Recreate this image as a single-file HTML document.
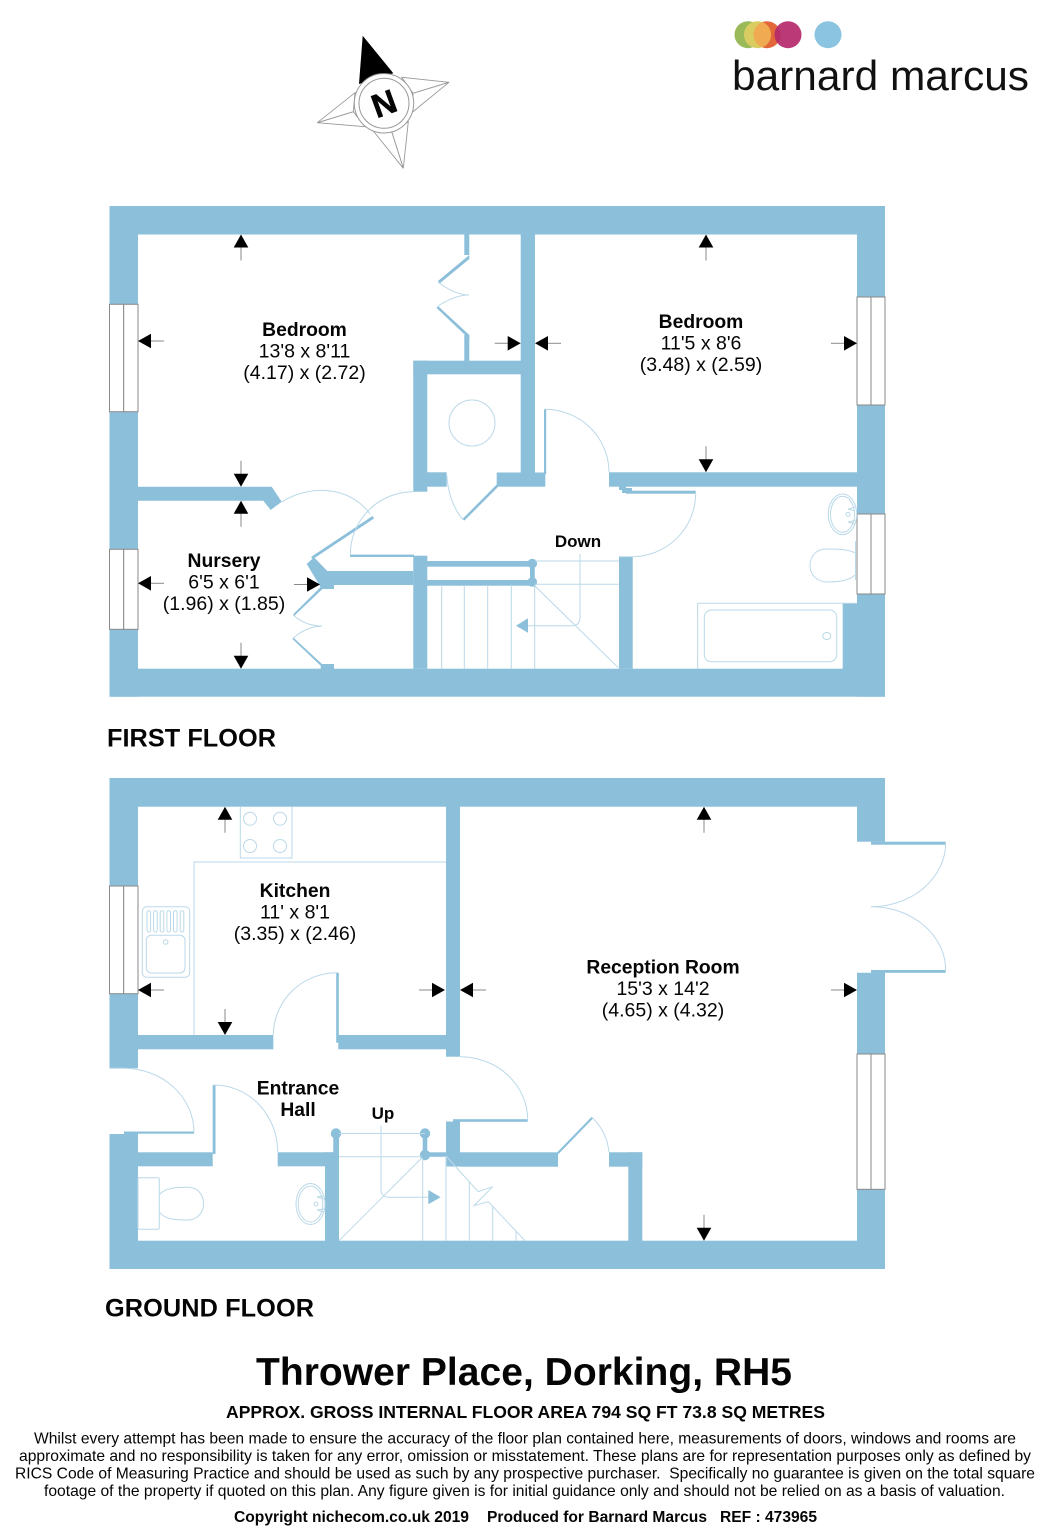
<!DOCTYPE html>
<html><head><meta charset="utf-8"><title>Thrower Place floor plan</title>
<style>html,body{margin:0;padding:0;background:#fff}svg{display:block}
text{font-family:"Liberation Sans",sans-serif;fill:#050505}
.b{font-weight:bold}.r{font-size:19.5px;text-anchor:middle}.h{font-size:19.3px;font-weight:bold;text-anchor:middle}
.l{fill:none;stroke:#bbd9e8;stroke-width:1}.w{fill:#8bbfda}.win{fill:#fff;stroke:#8a8a8a;stroke-width:1}
</style></head><body>
<svg xmlns="http://www.w3.org/2000/svg" width="1053" height="1536" viewBox="0 0 1053 1536">
<defs><g id="a"><line x1="0" y1="10" x2="0" y2="26" stroke="#8a8a8a" stroke-width="1"/><polygon points="0,0 -7.3,13 7.3,13" fill="#000"/></g>
<clipPath id="oc"><circle cx="767" cy="34.7" r="13.5"/></clipPath></defs>
<rect width="1053" height="1536" fill="#fff"/>

<!-- compass -->
<g fill="#fff" stroke="#999" stroke-width="0.9">
<polygon points="449,82.3 401.7,77.3 413,93.3"/><polygon points="449,82.3 413,93.3 411.7,112.7"/>
<polygon points="403.3,168.3 408.3,121.7 391.7,131.7"/><polygon points="403.3,168.3 391.7,131.7 373.3,131"/>
<polygon points="317.3,122.7 365,126.7 353.3,111.7"/><polygon points="317.3,122.7 353.3,111.7 355,92.7"/>
</g>
<polygon points="362.7,35.7 359,84 393.3,73.3" fill="#000"/>
<circle cx="384" cy="103.3" r="29.7" fill="#fff" stroke="#999" stroke-width="1"/>
<circle cx="384" cy="103.3" r="25" fill="#fff" stroke="#999" stroke-width="1"/>
<text x="384" y="115" class="b" font-size="33" text-anchor="middle" transform="rotate(-20 384 103.3)" style="stroke:#000;stroke-width:.6">N</text>

<!-- logo -->
<circle cx="767" cy="34.7" r="13.5" fill="#e2683a"/>
<circle cx="748" cy="34.7" r="13.5" fill="#9aba59"/>
<circle cx="757.5" cy="34.7" r="13.5" fill="#d9cd62"/>
<circle cx="757.5" cy="34.7" r="13.5" fill="#efaa52" clip-path="url(#oc)"/>
<circle cx="788" cy="34.7" r="13.5" fill="#b52a6c" opacity=".93"/>
<circle cx="828" cy="34.7" r="13.5" fill="#8bc4e0"/>
<text x="732" y="90" font-size="42" textLength="297" lengthAdjust="spacingAndGlyphs" style="fill:#111">barnard marcus</text>

<!-- FIRST FLOOR walls -->
<g class="w">
<rect x="109.5" y="206" width="775.5" height="28.5"/>
<rect x="109.5" y="668.7" width="775.5" height="28"/>
<rect x="109.5" y="206" width="28.5" height="98.3"/>
<rect x="109.5" y="411.7" width="28.5" height="137.6"/>
<rect x="109.5" y="629.3" width="28.5" height="67.4"/>
<rect x="857" y="206" width="28" height="91"/>
<rect x="857" y="405" width="28" height="109"/>
<rect x="857" y="594" width="28" height="102.7"/>
<rect x="842.7" y="603.3" width="16" height="66"/>
<rect x="520.7" y="234" width="14.3" height="252"/>
<rect x="496.7" y="472.5" width="48.6" height="14.2"/>
<rect x="544" y="409.3" width="2.2" height="65"/>
<rect x="464.3" y="234" width="5" height="21"/>
<polygon points="469.3,255 438,281 439.6,283.5 469.3,259"/>
<polygon points="438,306 469.3,335 469.3,339 436.6,308"/>
<rect x="464.3" y="335" width="5" height="27"/>
<rect x="413.3" y="360.7" width="108" height="13.6"/>
<rect x="413.3" y="360.7" width="14" height="131"/>
<rect x="427" y="472.3" width="19.7" height="14.4"/>
<polygon points="496.7,484.5 498.5,486.5 464.5,520.5 462.5,519"/>
<polygon points="138,486.7 271.7,486.7 281.7,501.7 270.7,510 263.3,500.7 138,500.7"/>
<polygon points="372.5,516 374,518.5 313,559 311,557"/>
<polygon points="306.7,564 314,557.3 327.3,571 413.3,571 413.3,585 334,585 334,589 320.7,589 320,586"/>
<polygon points="320.7,587 322.5,589 294.5,615.5 293,614.5"/>
<polygon points="293.3,637.5 322,664 320.5,665.5 292.5,639"/>
<rect x="320.7" y="664" width="13.3" height="5"/>
<rect x="413.3" y="555.7" width="14" height="113"/>
<rect x="350" y="554.6" width="64" height="2.4"/>
<rect x="427" y="561" width="105" height="5.7"/>
<rect x="427" y="580" width="105" height="5.7"/>
<circle cx="532.3" cy="563.5" r="4.8"/><circle cx="532.3" cy="582" r="4.8"/>
<rect x="530" y="564" width="4.8" height="18"/>
<rect x="619" y="556.7" width="13.7" height="112"/>
<rect x="609" y="472.3" width="248" height="14.4"/>
<rect x="619" y="486" width="7" height="4"/>
<rect x="622" y="488" width="10" height="5"/>
<rect x="626" y="490.7" width="69.7" height="3"/>
</g>
<g class="win">
<rect x="109.5" y="304.3" width="14.2" height="107.4"/><rect x="123.7" y="304.3" width="14.3" height="107.4"/>
<rect x="109.5" y="549.3" width="14.2" height="80"/><rect x="123.7" y="549.3" width="14.3" height="80"/>
<rect x="857" y="297" width="14" height="108"/><rect x="871" y="297" width="14" height="108"/>
<rect x="857" y="514" width="14" height="80"/><rect x="871" y="514" width="14" height="80"/>
</g>
<g class="l">
<path d="M438,282 Q455,295 469,295 Q455,295 438,306"/>
<circle cx="472" cy="423" r="23"/>
<path d="M446.7,475 Q449,504 463.4,520"/>
<path d="M281.7,502 C310,484 350,486 370,514"/>
<path d="M413.3,491.7 A63,63 0 0 0 350.3,555"/>
<path d="M545,409.3 A64,63 0 0 1 609,472"/>
<path d="M695.7,493 A63.7,63.7 0 0 1 632,556.7 L619,556.7"/>
<path d="M293.3,615 Q305,626 322,626 Q305,627 293.3,638.3"/>
<path d="M441.7,585V668.7M464.3,585V668.7M487.7,585V668.7M511.3,585V668.7M534.7,585V668.7"/>
<path d="M535,561H619M535,584.3H619M535,586L618.3,667.7"/>
<path d="M580,554V617Q580,625.7 572,625.7H528"/>
<path d="M842.7,603.3H697.7V668.7M842.7,603.3H857"/>
<rect x="704.3" y="610" width="132.4" height="51.7" rx="7"/>
<ellipse cx="826.7" cy="636" rx="4" ry="3.5"/>
<ellipse cx="842.5" cy="514.3" rx="14.2" ry="20.3"/>
<ellipse cx="842.5" cy="514.3" rx="12" ry="18"/>
<circle cx="848" cy="514.5" r="2"/>
<path d="M855,507.5L848,509L855,511M855,520.5L848,522L855,524"/>
<path d="M855,553 C848,549 835,549 826,549 C816,549 810,557 810,565.5 C810,574 816,582 828,582 C840,582 850,580 855,575"/>
<path d="M855.5,580V541"/>
</g>
<polygon points="516,625.7 528,618.3 528,632.7" fill="#8bbfda"/>

<!-- GROUND FLOOR walls -->
<g class="w">
<rect x="109.5" y="778" width="775.5" height="28.7"/>
<rect x="109.5" y="1240.7" width="775.5" height="28.3"/>
<rect x="109.5" y="778" width="28.5" height="108"/>
<rect x="109.5" y="993.7" width="28.5" height="74.6"/>
<polygon points="109.5,1134 124,1134 124,1132.5 138,1132.5 138,1269 109.5,1269"/>
<rect x="124" y="1131.5" width="70" height="2.2"/>
<rect x="138" y="1035" width="135.3" height="14.3"/>
<rect x="338.3" y="1035" width="108" height="14.3"/>
<rect x="336.2" y="972.7" width="2.6" height="70"/>
<rect x="446" y="778" width="14" height="278.7"/>
<rect x="446" y="1121.5" width="14" height="45"/>
<rect x="453" y="1119.2" width="74.7" height="2.6"/>
<rect x="460" y="1152.3" width="98" height="14.4"/>
<polygon points="557,1152.5 591.5,1117 593,1118.5 558.5,1154"/>
<rect x="609" y="1152.3" width="33.3" height="14.4"/>
<rect x="628.3" y="1152.3" width="14" height="90"/>
<rect x="138" y="1152.3" width="74.7" height="14"/>
<rect x="212.7" y="1085" width="2.8" height="69"/>
<rect x="277.7" y="1152.3" width="61.3" height="14"/>
<rect x="325" y="1152.3" width="14" height="90"/>
<rect x="333.3" y="1133" width="5.7" height="22"/>
<circle cx="336" cy="1133.5" r="5.2"/>
<circle cx="425" cy="1133.5" r="5.2"/>
<circle cx="425" cy="1155" r="5.2"/>
<rect x="422.7" y="1135" width="4.6" height="20"/>
<rect x="425" y="1152.3" width="22" height="4.5"/>
<rect x="857" y="778" width="28" height="63.7"/>
<rect x="871" y="841.7" width="74.7" height="3"/>
<rect x="871" y="970" width="74.7" height="2.8"/>
<polygon points="857,972.7 871,972.7 871,970 885,970 885,1054 857,1054"/>
<rect x="857" y="1189.3" width="28" height="79.7"/>
</g>
<g class="win">
<rect x="109.5" y="886" width="14.2" height="107.7"/><rect x="123.7" y="886" width="14.3" height="107.7"/>
<rect x="857" y="1054" width="14" height="135.3"/><rect x="871" y="1054" width="14" height="135.3"/>
</g>
<g class="l">
<path d="M194,1035V862H446"/>
<path d="M240.3,806.7V858H292V806.7"/>
<circle cx="250" cy="818.7" r="6.5"/><circle cx="280" cy="818.7" r="6.5"/><circle cx="250" cy="846" r="6.5"/><circle cx="280" cy="846" r="6.5"/>
<rect x="142.3" y="906.7" width="47.4" height="70.6" rx="4.5"/>
<rect x="146.3" y="935.3" width="38.7" height="37.7" rx="5"/>
<circle cx="165.7" cy="942" r="2.3"/>
<rect x="147" y="910.7" width="3.6" height="21.3" rx="1.8"/><rect x="153.6" y="910.7" width="3.6" height="21.3" rx="1.8"/><rect x="160.2" y="910.7" width="3.6" height="21.3" rx="1.8"/><rect x="166.9" y="910.7" width="3.6" height="21.3" rx="1.8"/><rect x="173.5" y="910.7" width="3.6" height="21.3" rx="1.8"/><rect x="180.2" y="910.7" width="3.6" height="21.3" rx="1.8"/>
<path d="M337,972.7 A63.7,63 0 0 0 273.3,1035"/>
<path d="M109.5,1068.3 H124 A70,64 0 0 1 194,1132"/>
<path d="M214,1085 A63.7,67 0 0 1 277.7,1152"/>
<path d="M460,1056.7 A67.7,63 0 0 1 527.7,1119.5"/>
<path d="M592.3,1117.7 Q607,1132 609,1152.3"/>
<path d="M945.7,843 A74.7,64 0 0 1 871,906.7 A74.7,63.5 0 0 1 945.7,970"/>
<path d="M339,1133.5H425M339,1156.7H422M339,1240.7L421.7,1158"/>
<path d="M422.7,1158V1240.7M446,1156V1240.7M469.3,1182V1240.7M492.7,1206V1240.7M516,1231V1240.7"/>
<path d="M446,1156L478.3,1191.7L492.7,1186.7L474,1205.7L488.3,1201.7L525,1240.7"/>
<path d="M381,1125.7V1189Q381,1197.3 389,1197.3H429"/>
<rect x="138" y="1177.7" width="21.3" height="51.6" rx="1.5"/>
<path d="M159.3,1195 C165,1187 180,1187.3 188,1187.3 C198,1187.3 203.5,1195 203.5,1203.7 C203.5,1212 198,1220 188,1220 C178,1220 165,1220 159.3,1212"/>
<ellipse cx="310.5" cy="1204" rx="14.5" ry="20.5"/>
<ellipse cx="310.5" cy="1204" rx="12.3" ry="18"/>
<circle cx="316" cy="1204" r="2"/>
<path d="M324,1196L317,1197L324,1199M324,1209L317,1210L324,1212"/>
</g>
<polygon points="440.7,1197.2 428.3,1190 428.3,1204.3" fill="#8bbfda"/>

<!-- dimension arrows -->
<use href="#a" transform="translate(241,234.5)"/>
<use href="#a" transform="translate(138,341) rotate(-90)"/>
<use href="#a" transform="translate(520.7,343.3) rotate(90)"/>
<use href="#a" transform="translate(241,486.7) rotate(180)"/>
<use href="#a" transform="translate(706,234.5)"/>
<use href="#a" transform="translate(535,343.3) rotate(-90)"/>
<use href="#a" transform="translate(857,343.3) rotate(90)"/>
<use href="#a" transform="translate(706,472.3) rotate(180)"/>
<use href="#a" transform="translate(241,500.7)"/>
<use href="#a" transform="translate(138,583.3) rotate(-90)"/>
<use href="#a" transform="translate(320,584.5) rotate(90)"/>
<use href="#a" transform="translate(241,668.7) rotate(180)"/>
<use href="#a" transform="translate(225,806.7)"/>
<use href="#a" transform="translate(138,990) rotate(-90)"/>
<use href="#a" transform="translate(445,990) rotate(90)"/>
<use href="#a" transform="translate(225,1035) rotate(180)"/>
<use href="#a" transform="translate(704,806.7)"/>
<use href="#a" transform="translate(460,990) rotate(-90)"/>
<use href="#a" transform="translate(857,990) rotate(90)"/>
<use href="#a" transform="translate(704,1240.7) rotate(180)"/>

<!-- room labels -->
<text x="304.5" y="336" class="h">Bedroom</text><text x="304.5" y="357.5" class="r">13'8 x 8'11</text><text x="304.5" y="379" class="r">(4.17) x (2.72)</text>
<text x="701" y="328" class="h">Bedroom</text><text x="701" y="349.5" class="r">11'5 x 8'6</text><text x="701" y="371" class="r">(3.48) x (2.59)</text>
<text x="224" y="567" class="h">Nursery</text><text x="224" y="588.5" class="r">6'5 x 6'1</text><text x="224" y="610" class="r">(1.96) x (1.85)</text>
<text x="578" y="547" class="b" font-size="17" text-anchor="middle">Down</text>
<text x="295" y="897" class="h">Kitchen</text><text x="295" y="918.5" class="r">11' x 8'1</text><text x="295" y="940" class="r">(3.35) x (2.46)</text>
<text x="663" y="973.3" class="h">Reception Room</text><text x="663" y="995" class="r">15'3 x 14'2</text><text x="663" y="1016.5" class="r">(4.65) x (4.32)</text>
<text x="298" y="1094.3" class="h">Entrance</text><text x="298" y="1116" class="h">Hall</text>
<text x="383" y="1119" class="b" font-size="17" text-anchor="middle">Up</text>
<text x="107" y="746.5" class="b" font-size="25.3" textLength="169">FIRST FLOOR</text>
<text x="105" y="1316.5" class="b" font-size="25.3" textLength="209">GROUND FLOOR</text>

<!-- footer -->
<text x="256" y="1385" class="b" font-size="39" textLength="536">Thrower Place, Dorking, RH5</text>
<text x="226" y="1418" class="b" font-size="17.3" textLength="599" lengthAdjust="spacingAndGlyphs">APPROX. GROSS INTERNAL FLOOR AREA 794 SQ FT 73.8 SQ METRES</text>
<text x="34" y="1443.5" font-size="16" textLength="982" lengthAdjust="spacingAndGlyphs">Whilst every attempt has been made to ensure the accuracy of the floor plan contained here, measurements of doors, windows and rooms are</text>
<text x="19" y="1461" font-size="16" textLength="1012" lengthAdjust="spacingAndGlyphs">approximate and no responsibility is taken for any error, omission or misstatement. These plans are for representation purposes only as defined by</text>
<text x="15" y="1478.5" font-size="16" textLength="1020" lengthAdjust="spacingAndGlyphs" xml:space="preserve">RICS Code of Measuring Practice and should be used as such by any prospective purchaser.  Specifically no guarantee is given on the total square</text>
<text x="44" y="1496" font-size="16" textLength="961" lengthAdjust="spacingAndGlyphs">footage of the property if quoted on this plan. Any figure given is for initial guidance only and should not be relied on as a basis of valuation.</text>
<text x="234" y="1522" class="b" font-size="15.5" textLength="235" lengthAdjust="spacingAndGlyphs">Copyright nichecom.co.uk 2019</text>
<text x="487" y="1522" class="b" font-size="15.5" textLength="220" lengthAdjust="spacingAndGlyphs">Produced for Barnard Marcus</text>
<text x="720" y="1522" class="b" font-size="15.5" textLength="97" lengthAdjust="spacingAndGlyphs">REF : 473965</text>
</svg>
</body></html>
